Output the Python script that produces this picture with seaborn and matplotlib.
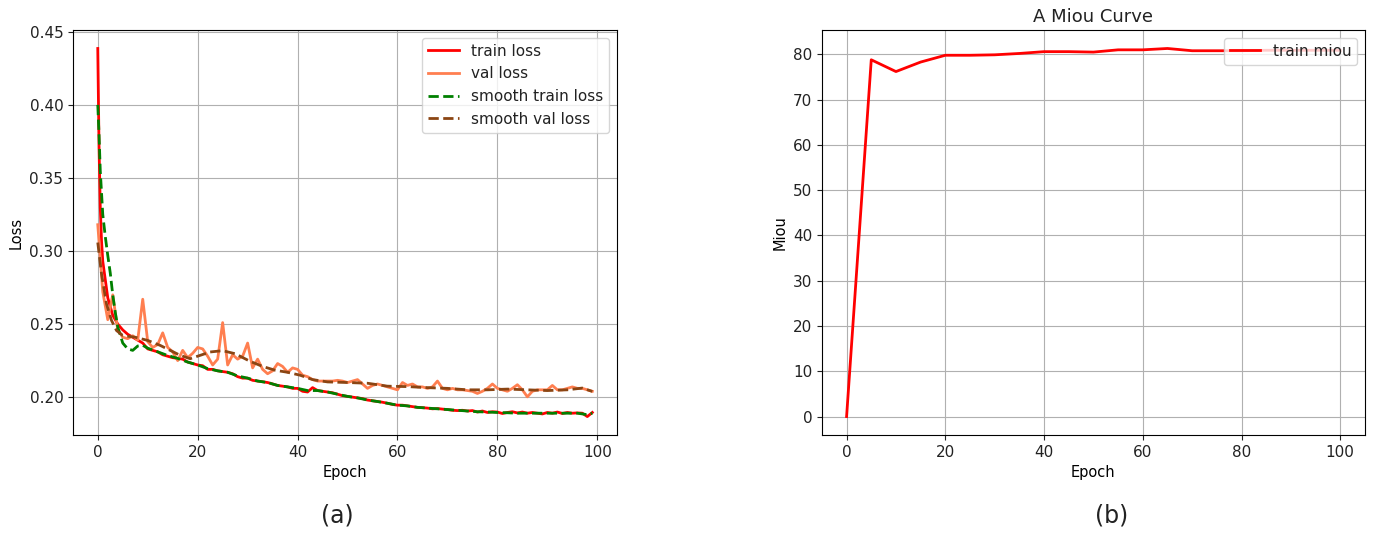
import matplotlib
matplotlib.use("Agg")
from matplotlib import pyplot as plt
import seaborn as sns

# loss curve data
train_epochs = [0, 0.25, 0.5, 0.75] + list(range(1, 100))
train_loss = [0.4386, 0.372, 0.330, 0.307,
              0.293, 0.268, 0.256, 0.250, 0.246, 0.243, 0.241, 0.239, 0.237, 0.233,
              0.232, 0.231, 0.229, 0.228, 0.227, 0.2265, 0.226, 0.224, 0.223, 0.222,
              0.2215, 0.219, 0.219, 0.218, 0.2175, 0.217, 0.216, 0.214, 0.213, 0.213,
              0.2115, 0.211, 0.2105, 0.210, 0.209, 0.208, 0.2075, 0.207, 0.206, 0.206,
              0.204, 0.2035, 0.2065, 0.2045, 0.204, 0.2035, 0.203, 0.202, 0.201, 0.2005,
              0.200, 0.1995, 0.199, 0.198, 0.1975, 0.197, 0.1965, 0.1958, 0.195, 0.1945,
              0.1945, 0.194, 0.1935, 0.193, 0.1928, 0.1925, 0.192, 0.1922, 0.1918, 0.1915,
              0.191, 0.1908, 0.191, 0.1905, 0.1908, 0.1898, 0.1905, 0.1895, 0.190, 0.1898,
              0.1888, 0.1895, 0.190, 0.1892, 0.1898, 0.189, 0.1895, 0.189, 0.1885, 0.1895,
              0.189, 0.1898, 0.1888, 0.1895, 0.189, 0.1892, 0.189, 0.1867, 0.1895]

val_epochs = list(range(100))
val_loss = [0.318, 0.272, 0.253, 0.270, 0.246, 0.241, 0.240, 0.242, 0.239, 0.267,
            0.238, 0.234, 0.236, 0.244, 0.234, 0.231, 0.225, 0.232, 0.227, 0.230,
            0.234, 0.233, 0.228, 0.222, 0.226, 0.251, 0.222, 0.229, 0.226, 0.228,
            0.237, 0.220, 0.226, 0.219, 0.216, 0.218, 0.223, 0.221, 0.217, 0.220,
            0.219, 0.215, 0.214, 0.212, 0.211, 0.211, 0.211, 0.211, 0.2115, 0.211,
            0.210, 0.211, 0.212, 0.209, 0.206, 0.208, 0.209, 0.208, 0.207, 0.206,
            0.205, 0.210, 0.208, 0.209, 0.207, 0.207, 0.206, 0.207, 0.211, 0.206,
            0.205, 0.206, 0.205, 0.205, 0.2045, 0.204, 0.2025, 0.204, 0.206, 0.209,
            0.206, 0.205, 0.204, 0.206, 0.2085, 0.205, 0.2002, 0.204, 0.205, 0.205,
            0.205, 0.208, 0.205, 0.205, 0.206, 0.207, 0.206, 0.206, 0.205, 0.204]

smooth_train_epochs = [0, 0.25, 0.5, 1, 1.5, 2, 2.5, 3, 3.5, 4, 5, 6, 7, 8, 9, 10,
                       12, 14, 16, 18, 20, 22, 24, 26, 28, 30, 32, 34, 36, 38, 40,
                       42, 44, 46, 48, 50, 52, 54, 56, 58, 60, 62, 64, 66, 68, 70,
                       72, 74, 76, 78, 80, 82, 84, 86, 88, 90, 92, 94, 96, 98, 99]
smooth_train_loss = [0.400, 0.380, 0.355, 0.325, 0.310, 0.297, 0.285, 0.270, 0.258,
                     0.248, 0.237, 0.233, 0.232, 0.235, 0.2355, 0.2335,
                     0.231, 0.2285, 0.2265, 0.224, 0.222, 0.2195, 0.218, 0.217,
                     0.2145, 0.213, 0.211, 0.210, 0.208, 0.207, 0.206,
                     0.2045, 0.2045, 0.2035, 0.202, 0.2005, 0.1995, 0.198, 0.197,
                     0.1958, 0.1945, 0.194, 0.193, 0.1925, 0.192, 0.1915,
                     0.191, 0.1905, 0.190, 0.1898, 0.1895, 0.1893, 0.189, 0.189,
                     0.189, 0.189, 0.189, 0.189, 0.189, 0.188, 0.189]

smooth_val_epochs = [0, 0.75, 1.75, 2.75, 3.75, 5, 7.5, 10, 12.5, 14.5, 16.5, 18.5,
                     20.5, 22.5, 25, 27.5, 30.5, 33, 35.5, 38, 40.5, 43, 46, 50,
                     54, 58, 62, 66, 70, 74, 78, 82, 86, 90, 94, 97, 99]
smooth_val_loss = [0.3058, 0.2843, 0.2638, 0.2525, 0.2456, 0.2422, 0.241, 0.2388,
                   0.2354, 0.232, 0.2286, 0.2263, 0.2286, 0.2309, 0.2318, 0.2297,
                   0.2245, 0.221, 0.2184, 0.217, 0.215, 0.212, 0.2104, 0.210,
                   0.2095, 0.2075, 0.2072, 0.2065, 0.206, 0.205, 0.205, 0.2055,
                   0.205, 0.2045, 0.205, 0.2062, 0.2039]

# miou curve data
miou_epochs = [0, 5, 10, 15, 20, 25, 30, 35, 40, 45, 50, 55, 60, 65, 70, 75, 80,
               85, 90, 95, 100]
train_miou = [0.0, 78.8, 76.2, 78.3, 79.8, 79.8, 79.9, 80.2, 80.6, 80.6, 80.5,
              81.0, 81.0, 81.3, 80.8, 80.8, 80.8, 80.9, 80.9, 80.9, 80.9]

plt.rcParams['xtick.labelsize'] = 11
plt.rcParams['ytick.labelsize'] = 11
plt.rcParams['axes.labelsize'] = 10.5
plt.rcParams['legend.fontsize'] = 11
plt.rcParams['text.color'] = '#222222'
plt.rcParams['xtick.color'] = '#222222'
plt.rcParams['ytick.color'] = '#222222'

fig = plt.figure(figsize=(13.86, 5.37), dpi=100)
ax1 = fig.add_axes([0.0527, 0.19, 0.3925, 0.754])
ax2 = fig.add_axes([0.593, 0.19, 0.3918, 0.754])

# (a) loss curves
sns.lineplot(x=train_epochs, y=train_loss, ax=ax1, color='red', linewidth=2,
             label='train loss')
sns.lineplot(x=val_epochs, y=val_loss, ax=ax1, color='coral', linewidth=2,
             label='val loss')
sns.lineplot(x=smooth_train_epochs, y=smooth_train_loss, ax=ax1, color='green',
             linewidth=2, linestyle='--', label='smooth train loss')
sns.lineplot(x=smooth_val_epochs, y=smooth_val_loss, ax=ax1, color='#8b4513',
             linewidth=2, linestyle='--', label='smooth val loss')
ax1.set_xlabel('Epoch')
ax1.set_ylabel('Loss')
ax1.set_xticks([0, 20, 40, 60, 80, 100])
ax1.set_yticks([0.20, 0.25, 0.30, 0.35, 0.40, 0.45])
ax1.grid(True)
ax1.legend(loc='upper right')

# (b) miou curve
sns.lineplot(x=miou_epochs, y=train_miou, ax=ax2, color='red', linewidth=2,
             label='train miou')
ax2.set_xlabel('Epoch')
ax2.set_ylabel('Miou')
ax2.set_title('A Miou Curve', fontsize=13)
ax2.set_xticks([0, 20, 40, 60, 80, 100])
ax2.set_yticks(range(0, 90, 10))
ax2.grid(True)
ax2.legend(loc='upper right')

fig.text(337 / 1386, 1 - 515 / 537, '(a)', fontsize=17, ha='center', va='center')
fig.text(1112 / 1386, 1 - 515 / 537, '(b)', fontsize=17, ha='center', va='center')

fig.savefig('out.png', dpi=100)
